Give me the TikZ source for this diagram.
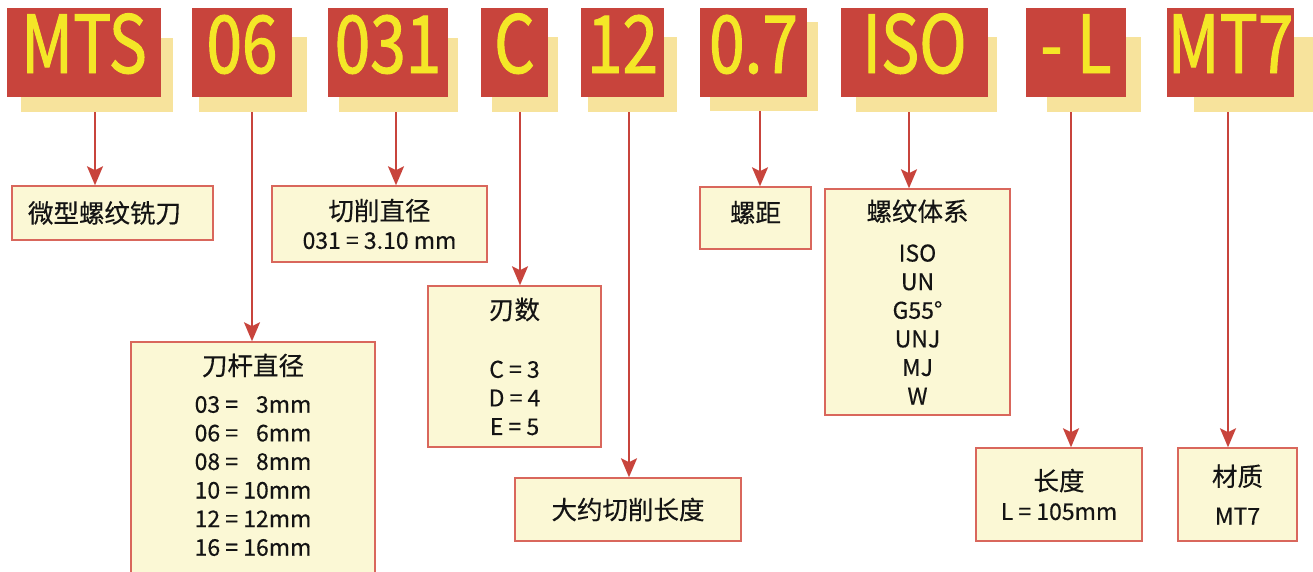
\documentclass[tikz,border=0pt]{standalone}
\usepackage{fontspec}
\setmainfont{Noto Sans CJK SC}[FakeBold=0.4]
\newfontfamily\codefont{Noto Sans CJK SC}[FakeStretch=0.8,FakeBold=1.2]
\usetikzlibrary{positioning,arrows.meta,backgrounds}
\pgfdeclarelayer{background layer}
\pgfsetlayers{background layer,main}
\definecolor{codered}{HTML}{C8443C}
\definecolor{codeyellow}{HTML}{F4E727}
\definecolor{shadowyellow}{HTML}{F7E39C}
\definecolor{descfill}{HTML}{FBF8D5}
\definecolor{descline}{HTML}{D9675C}
\definecolor{textblack}{HTML}{141414}
\newcommand{\zh}[1]{{\fontsize{25.5}{28.6}\selectfont #1}}
\tikzset{
	code base/.style={rectangle, fill=codered, text=codeyellow, inner sep=0pt, minimum height=89pt, font=\codefont\fontsize{80}{80}\selectfont, text height=54pt, text depth=13pt},
	shadow base/.style={rectangle, fill=shadowyellow, inner sep=0pt, minimum height=75pt},
	desc base/.style={rectangle, draw=descline, line width=1.5pt, fill=descfill, inner sep=0pt, align=center, text=textblack, font=\fontsize{23}{28.6}\selectfont},
	code arrow/.style={draw=codered, line width=2.2pt, -{Stealth[length=19pt,width=16pt,inset=4pt]}},
}

\begin{document}
\begin{tikzpicture}[x=1pt,y=-1pt]
	\useasboundingbox (0,0) rectangle (1313,571);
	% On main layer: code boxes
	\node [code base,minimum width=154pt] (cMTS) at (84,52.5) {MTS};
	\node [code base,minimum width=100pt] (c06) at (242,52.5) {06};
	\node [code base,minimum width=120pt] (c031) at (388,52.5) {031};
	\node [code base,minimum width=67pt] (cC) at (514.5,52.5) {C};
	\node [code base,minimum width=83pt] (c12) at (622.5,52.5) {12};
	\node [code base,minimum width=107pt] (c07) at (753.5,52.5) {0.7};
	\node [code base,minimum width=147pt] (cISO) at (914.5,52.5) {ISO};
	\node [code base,minimum width=100pt] (cL) at (1076,52.5) {- L};
	\node [code base,minimum width=127pt] (cMT7) at (1230.5,52.5) {MT7};

	% On block 1 layer: shadows
	\begin{pgfonlayer}{background layer}
	\fill [white] (0,0) rectangle (1313,571);
	\node [shadow base,minimum width=152pt,minimum height=74pt] (sMTS) at (97,75) {};
	\node [shadow base,minimum width=108pt] (s06) at (253,74.5) {};
	\node [shadow base,minimum width=119pt,minimum height=74pt] (s031) at (398.5,75) {};
	\node [shadow base,minimum width=66pt] (sC) at (525,74.5) {};
	\node [shadow base,minimum width=89pt] (s12) at (632.5,74.5) {};
	\node [shadow base,minimum width=108pt,minimum height=89pt] (s07) at (764,66.5) {};
	\node [shadow base,minimum width=141pt] (sISO) at (926.5,74.5) {};
	\node [shadow base,minimum width=94pt] (sL) at (1094,74.5) {};
	\node [shadow base,minimum width=119pt] (sMT7) at (1253.5,74.5) {};
	\end{pgfonlayer}

	% description boxes
	\node [desc base,minimum width=201pt,minimum height=54pt] (dMTS) at (112.5,213) {\zh{微型螺纹铣刀}\hspace*{16pt}};
	\node [desc base,minimum width=244pt,minimum height=234pt] (d06) at (253,459) {\zh{刀杆直径}\\[9pt]\begin{tabular}[t]{@{}r@{ = }r@{}}03 & 3mm\\ 06 & 6mm\\ 08 & 8mm\\ 10 & 10mm\\ 12 & 12mm\\ 16 & 16mm\end{tabular}};
	\node [desc base,minimum width=215pt,minimum height=76pt] (d031) at (379.5,224) {\zh{切削直径}\\031 = 3.10 mm};
	\node [desc base,minimum width=173pt,minimum height=161pt] (dC) at (514.5,366.5) {\zh{刃数}\\[30pt]C = 3\\D = 4\\E = 5};
	\node [desc base,minimum width=226pt,minimum height=63pt] (d12) at (628,509.5) {\zh{大约切削长度}};
	\node [desc base,minimum width=111pt,minimum height=62pt,text depth=13pt] (d07) at (755.5,218) {\zh{螺距}};
	\node [desc base,minimum width=185pt,minimum height=226pt] (dISO) at (917.5,302) {\zh{螺纹体系}\\[12pt]ISO\\UN\\G55°\\UNJ\\MJ\\W};
	\node [desc base,minimum width=166pt,minimum height=93pt] (dL) at (1059,494.5) {\zh{长度}\\[1pt]L = 105mm};
	\node [desc base,minimum width=119pt,minimum height=93pt] (dMT7) at (1237.5,494.5) {\zh{材质}\\[10pt]MT7};

	% arrows
	\coordinate (xMTS) at (95,0);
	\coordinate (x06) at (252,0);
	\coordinate (x031) at (396,0);
	\coordinate (xC) at (520,0);
	\coordinate (x12) at (629,0);
	\coordinate (x07) at (760,0);
	\coordinate (xISO) at (909,0);
	\coordinate (xL) at (1071,0);
	\coordinate (xMT7) at (1228,0);
	\draw [code arrow] (sMTS.south -| xMTS) -- (dMTS.north -| xMTS);
	\draw [code arrow] (s06.south -| x06) -- (d06.north -| x06);
	\draw [code arrow] (s031.south -| x031) -- (d031.north -| x031);
	\draw [code arrow] (sC.south -| xC) -- (dC.north -| xC);
	\draw [code arrow] (s12.south -| x12) -- (d12.north -| x12);
	\draw [code arrow] (s07.south -| x07) -- (d07.north -| x07);
	\draw [code arrow] (sISO.south -| xISO) -- (dISO.north -| xISO);
	\draw [code arrow] (sL.south -| xL) -- (dL.north -| xL);
	\draw [code arrow] (sMT7.south -| xMT7) -- (dMT7.north -| xMT7);
\end{tikzpicture}
\end{document}
